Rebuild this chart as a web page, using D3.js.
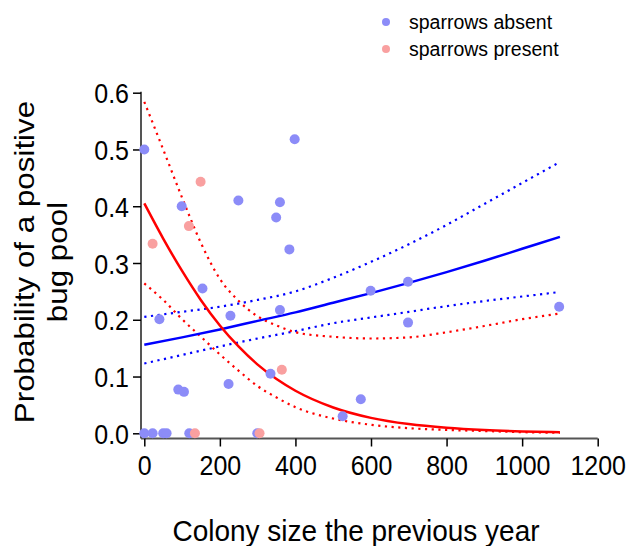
<!DOCTYPE html>
<html>
<head>
<meta charset="utf-8">
<script src="https://cdn.jsdelivr.net/npm/d3@7/dist/d3.min.js"></script>
<style>
  html, body { margin: 0; padding: 0; background: #fff; }
  svg { display: block; }
  text { font-family: "Liberation Sans", Arial, Helvetica, sans-serif; fill: #000; }
</style>
</head>
<body>
<svg id="chart" width="628" height="546"></svg>
<script>
// ---- data ----
const absentX = [0, 0, 22, 50, 59, 119, 299, 40, 99, 90, 105, 154, 228, 223, 249, 359, 349, 398, 384, 359, 334, 599, 698, 698, 1098, 573, 525];
const absentY = [0.500, 0, 0, 0, 0, 0, 0, 0.201, 0.400, 0.077, 0.073, 0.255, 0.207, 0.087, 0.410, 0.407, 0.380, 0.518, 0.324, 0.217, 0.105, 0.251, 0.267, 0.195, 0.223, 0.060, 0.030];
const presentX = [22, 149, 118, 364, 134, 305];
const presentY = [0.334, 0.443, 0.365, 0.112, 0, 0];

const redGridX = [0, 50, 100, 150, 200, 250, 300, 350, 400, 500, 600, 700, 800, 900, 1000, 1100];
const redFit   = [0.405, 0.343, 0.286, 0.2345, 0.190, 0.1525, 0.121, 0.0956, 0.075, 0.0455, 0.0272, 0.0162, 0.0096, 0.0056, 0.0033, 0.0020];
const redUpper = [0.584, 0.500, 0.415, 0.335, 0.272, 0.233, 0.206, 0.190, 0.178, 0.170, 0.167, 0.169, 0.178, 0.189, 0.201, 0.211];
const redLower = [0.264, 0.235, 0.201, 0.170, 0.139, 0.110, 0.083, 0.063, 0.046, 0.026, 0.015, 0.009, 0.006, 0.004, 0.002, 0.001];

const blueGridX = [0, 100, 200, 300, 400, 500, 600, 700, 800, 900, 1000, 1100];
const blueFit   = [0.156, 0.169, 0.183, 0.198, 0.213, 0.230, 0.247, 0.265, 0.284, 0.304, 0.325, 0.346];
const blueUpper = [0.205, 0.214, 0.223, 0.235, 0.250, 0.274, 0.302, 0.333, 0.367, 0.404, 0.441, 0.478];
const blueLower = [0.123, 0.138, 0.153, 0.167, 0.180, 0.194, 0.204, 0.214, 0.224, 0.233, 0.241, 0.249];

const xTicks = [0, 200, 400, 600, 800, 1000, 1200];
const yTicks = [0, 0.1, 0.2, 0.3, 0.4, 0.5, 0.6];
const legendLabels = ["sparrows absent", "sparrows present"];
const xTitle = "Colony size the previous year";
const yTitleLines = ["Probability of a positive", "bug pool"];

// ---- styles ----
const blueDot = "#8c8cf8";
const redDot = "#f9a0a0";
const blueLine = "#0000ff";
const redLine = "#ff0000";
const stretch = 1.12;

const svg = d3.select("#chart");
const x = d3.scaleLinear().domain([0, 1200]).range([144.3, 597.7]);
const y = d3.scaleLinear().domain([0, 0.6]).range([433.3, 92.7]);
const axisY = 438.5;
const axisX = 141;

// axes lines
svg.append("line").attr("x1", axisX).attr("x2", x(1200)).attr("y1", axisY).attr("y2", axisY)
  .attr("stroke", "#555").attr("stroke-width", 2);
svg.append("line").attr("x1", axisX).attr("x2", axisX).attr("y1", y(0.6) - 1).attr("y2", axisY)
  .attr("stroke", "#555").attr("stroke-width", 2);

const xAxis = svg.append("g").attr("transform", `translate(0,${axisY})`)
  .call(d3.axisBottom(x).tickValues(xTicks).tickFormat(d3.format("d")).tickSize(8));
xAxis.select(".domain").remove();
xAxis.selectAll(".tick line").attr("stroke", "#000").attr("stroke-width", 1.5);
xAxis.selectAll(".tick text").attr("y", 0).attr("dy", 0)
  .attr("transform", `translate(0,36.5) scale(1,${stretch})`).style("font-size", "25px");

const yAxis = svg.append("g").attr("transform", `translate(${axisX},0)`)
  .call(d3.axisLeft(y).tickValues(yTicks).tickFormat(d3.format(".1f")).tickSize(8).tickPadding(4));
yAxis.select(".domain").remove();
yAxis.selectAll(".tick line").attr("stroke", "#000").attr("stroke-width", 1.5);
yAxis.selectAll(".tick text").attr("dy", "0.36em")
  .attr("transform", `scale(1,${stretch})`).style("font-size", "25px");

// titles
svg.append("text").attr("x", 0).attr("y", 0).attr("text-anchor", "middle")
  .attr("transform", "translate(356,541) scale(1,1.08)")
  .style("font-size", "28px").text(xTitle);
const yt = svg.append("g").attr("transform", `translate(0,262) scale(1,${stretch}) rotate(-90)`);
yTitleLines.forEach((t, i) => {
  yt.append("text").attr("x", 0).attr("y", 34 + i * 33).attr("text-anchor", "middle")
    .style("font-size", "28px").text(t);
});

// curves
function drawCurve(xs, ys, color, dotted) {
  const line = d3.line().x(d => x(d[0])).y(d => y(d[1])).curve(d3.curveMonotoneX);
  const p = svg.append("path").datum(xs.map((v, i) => [v, ys[i]]))
    .attr("d", line).attr("fill", "none").attr("stroke", color);
  if (dotted) p.attr("stroke-width", 2.2).attr("stroke-dasharray", "2.2,4.5");
  else p.attr("stroke-width", 2.5);
}
drawCurve(blueGridX, blueUpper, blueLine, true);
drawCurve(blueGridX, blueLower, blueLine, true);
drawCurve(redGridX, redUpper, redLine, true);
drawCurve(redGridX, redLower, redLine, true);
drawCurve(blueGridX, blueFit, blueLine, false);
drawCurve(redGridX, redFit, redLine, false);

// points
svg.append("g").selectAll("circle").data(absentX.map((v, i) => [v, absentY[i]])).join("circle")
  .attr("cx", d => x(d[0])).attr("cy", d => y(d[1])).attr("r", 5).attr("fill", blueDot);
svg.append("g").selectAll("circle").data(presentX.map((v, i) => [v, presentY[i]])).join("circle")
  .attr("cx", d => x(d[0])).attr("cy", d => y(d[1])).attr("r", 5).attr("fill", redDot);

// legend
const leg = svg.append("g");
[blueDot, redDot].forEach((c, i) => {
  leg.append("circle").attr("cx", 386).attr("cy", 22 + i * 27).attr("r", 4).attr("fill", c);
  leg.append("text").attr("x", 409).attr("y", 28.5 + i * 27).style("font-size", "19.5px").text(legendLabels[i]);
});
</script>
</body>
</html>
